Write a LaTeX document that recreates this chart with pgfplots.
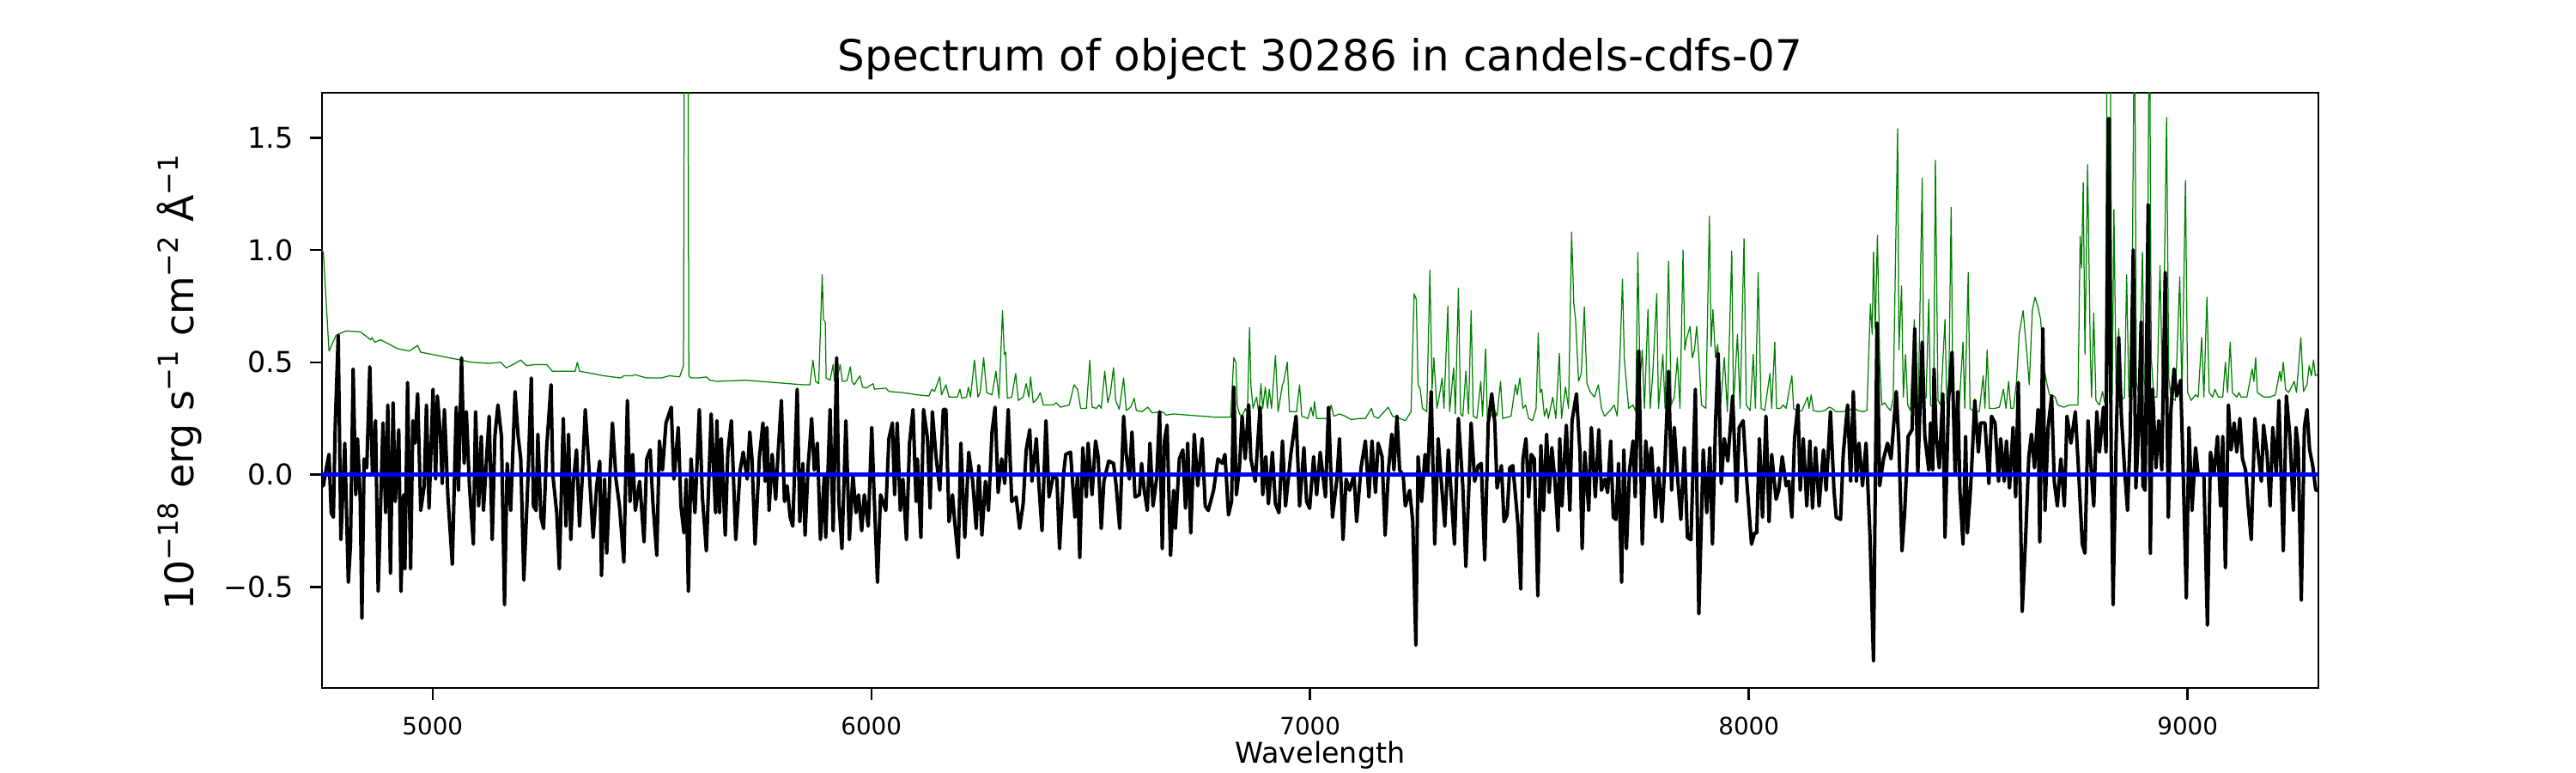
\documentclass[border=0pt]{standalone}
\usepackage{fontspec}
\setmainfont{DejaVu Sans}
\usepackage{pgfplots}
\pgfplotsset{compat=1.18}
\definecolor{mplgreen}{rgb}{0,0.5,0}
\definecolor{mplblue}{rgb}{0,0,1}
\begin{document}
\begin{tikzpicture}
\path[use as bounding box] (-135pt,-35.64pt) rectangle (945pt,288.36pt);
\begin{axis}[
  at={(0pt,0pt)}, anchor=south west,
  scale only axis, width=837pt, height=249.48pt,
  xmin=4748, xmax=9298, ymin=-0.95, ymax=1.70,
  axis line style={line width=0.9pt, black},
  tick align=outside, major tick length=5pt,
  tick style={line width=0.9pt, black},
  xtick pos=left, ytick pos=left,
  xtick={5000,6000,7000,8000,9000},
  xticklabels={5000,6000,7000,8000,9000},
  ytick={-0.5,0,0.5,1,1.5},
  yticklabels={−0.5,0.0,0.5,1.0,1.5},
  xticklabel style={font=\fontsize{10}{12}\selectfont, inner sep=0pt, anchor=north, yshift=-6.9pt},
  yticklabel style={font=\fontsize{12}{14}\selectfont, inner sep=0pt, anchor=east, xshift=-6.9pt},
  title={Spectrum of object 30286 in candels-cdfs-07},
  title style={at={(axis description cs:0.5,1)}, anchor=base, yshift=3pt, inner sep=0pt, font=\fontsize{18}{21}\selectfont},
  xlabel={Wavelength},
  xlabel style={at={(axis description cs:0.5,0)}, anchor=base, yshift=-31.5pt, inner sep=0pt, font=\fontsize{12}{14}\selectfont},
  ylabel={10\textsuperscript{−18} erg s\textsuperscript{−1} cm\textsuperscript{−2} Å\textsuperscript{−1}},
  ylabel style={at={(axis description cs:-0.0645,0.514)}, anchor=base, inner sep=0pt, font=\fontsize{16.5}{19}\selectfont},
  clip=true,
]
% green (error / sky) spectrum
\addplot[mplgreen, line width=0.45pt, line join=round] table {
4748 1.00
4751 0.99
4764 0.55
4780 0.62
4803 0.64
4836 0.635
4859 0.60
4862 0.61
4868 0.59
4882 0.60
4921 0.56
4947 0.55
4966 0.575
4973 0.545
4999 0.535
5038 0.52
5064 0.51
5090 0.50
5129 0.495
5155 0.50
5168 0.475
5188 0.495
5201 0.51
5214 0.485
5234 0.49
5260 0.49
5273 0.46
5299 0.46
5325 0.46
5330 0.50
5335 0.46
5364 0.45
5390 0.44
5429 0.43
5436 0.44
5456 0.44
5461 0.445
5488 0.43
5521 0.43
5540 0.44
5563 0.435
5572 0.485
5575 3.0
5581 3.0
5584 0.44
5589 0.43
5606 0.43
5624 0.435
5632 0.42
5648 0.415
5714 0.42
5779 0.41
5844 0.40
5860 0.40
5867 0.51
5873 0.415
5880 0.405
5888 0.89
5891 0.69
5895 0.68
5897 0.43
5906 0.42
5913 0.49
5916 0.415
5921 0.42
5929 0.49
5934 0.415
5939 0.415
5945 0.42
5952 0.48
5956 0.415
5961 0.40
5974 0.44
5980 0.39
5988 0.385
6004 0.405
6007 0.38
6033 0.385
6040 0.37
6072 0.365
6105 0.355
6131 0.35
6138 0.38
6144 0.37
6156 0.435
6160 0.355
6170 0.40
6177 0.345
6196 0.345
6202 0.38
6206 0.34
6217 0.345
6221 0.39
6226 0.345
6235 0.51
6243 0.345
6248 0.365
6256 0.52
6263 0.365
6275 0.355
6284 0.46
6291 0.34
6299 0.73
6303 0.535
6306 0.545
6310 0.34
6320 0.345
6329 0.45
6335 0.33
6346 0.345
6353 0.405
6359 0.345
6363 0.435
6369 0.32
6379 0.34
6385 0.365
6392 0.31
6415 0.31
6421 0.32
6431 0.30
6451 0.31
6462 0.40
6470 0.38
6477 0.295
6490 0.295
6498 0.51
6503 0.30
6513 0.295
6519 0.31
6524 0.295
6532 0.46
6539 0.32
6545 0.365
6552 0.476
6557 0.33
6565 0.29
6575 0.43
6581 0.285
6591 0.30
6599 0.34
6604 0.285
6617 0.28
6630 0.30
6640 0.275
6663 0.28
6672 0.265
6689 0.27
6721 0.265
6754 0.26
6787 0.255
6819 0.255
6826 0.52
6831 0.50
6834 0.31
6839 0.27
6845 0.26
6853 0.295
6857 0.27
6862 0.655
6865 0.40
6870 0.295
6878 0.345
6883 0.27
6888 0.405
6892 0.295
6898 0.39
6903 0.295
6907 0.38
6912 0.295
6921 0.53
6927 0.28
6937 0.40
6940 0.415
6948 0.50
6953 0.28
6969 0.28
6976 0.40
6981 0.26
6995 0.25
7002 0.30
7007 0.26
7010 0.325
7015 0.25
7041 0.25
7048 0.31
7054 0.26
7067 0.27
7080 0.26
7093 0.245
7113 0.25
7126 0.25
7140 0.295
7145 0.26
7155 0.25
7178 0.30
7188 0.26
7204 0.25
7217 0.24
7230 0.28
7237 0.805
7242 0.78
7246 0.40
7251 0.38
7256 0.295
7266 0.28
7273 0.91
7278 0.38
7282 0.52
7289 0.295
7294 0.345
7301 0.43
7305 0.295
7314 0.75
7318 0.28
7327 0.475
7331 0.27
7338 0.83
7343 0.27
7348 0.26
7355 0.46
7361 0.27
7367 0.73
7372 0.26
7380 0.25
7389 0.415
7393 0.26
7400 0.56
7404 0.25
7413 0.26
7419 0.295
7426 0.26
7434 0.415
7439 0.25
7458 0.26
7468 0.40
7472 0.355
7478 0.43
7485 0.295
7491 0.31
7498 0.25
7507 0.24
7515 0.295
7520 0.63
7524 0.365
7528 0.38
7534 0.26
7539 0.295
7543 0.25
7553 0.345
7560 0.25
7568 0.54
7573 0.25
7582 0.39
7589 0.295
7596 1.08
7601 0.76
7605 0.69
7612 0.415
7618 0.45
7625 0.745
7631 0.405
7638 0.37
7648 0.345
7657 0.40
7664 0.295
7671 0.26
7684 0.285
7693 0.31
7700 0.26
7706 0.52
7712 0.87
7716 0.52
7719 0.45
7726 0.295
7736 0.31
7742 0.28
7747 0.99
7752 0.415
7757 0.555
7762 0.295
7770 0.735
7775 0.295
7781 0.45
7790 0.805
7794 0.295
7804 0.535
7809 0.295
7817 0.95
7823 0.31
7830 0.345
7837 0.52
7843 0.295
7850 1.00
7854 0.555
7858 0.605
7866 0.66
7871 0.52
7876 0.555
7881 0.66
7886 0.52
7892 0.31
7902 0.295
7910 1.15
7914 0.57
7918 0.735
7924 0.52
7929 0.58
7935 0.295
7944 0.52
7951 0.28
7961 0.995
7965 0.31
7974 0.625
7980 0.295
7989 1.05
7994 0.31
8003 0.285
8010 0.535
8015 0.295
8021 0.90
8028 0.295
8036 0.285
8048 0.45
8052 0.295
8059 0.59
8063 0.295
8072 0.295
8078 0.31
8085 0.295
8091 0.365
8098 0.44
8102 0.295
8111 0.28
8121 0.285
8134 0.345
8137 0.295
8142 0.355
8147 0.285
8160 0.28
8173 0.285
8183 0.30
8189 0.295
8199 0.28
8212 0.28
8228 0.285
8238 0.30
8248 0.285
8261 0.28
8269 0.285
8277 0.76
8281 0.625
8284 0.99
8288 0.65
8293 1.065
8298 0.52
8303 0.31
8310 0.32
8316 0.30
8323 0.285
8329 0.34
8339 1.54
8342 0.555
8348 0.84
8352 0.345
8357 0.535
8362 0.31
8368 0.285
8377 0.69
8382 0.345
8386 0.295
8395 1.32
8399 0.33
8404 0.345
8410 0.78
8414 0.31
8421 0.295
8425 1.40
8431 0.33
8437 0.31
8442 0.50
8447 0.69
8451 0.32
8455 0.295
8461 1.19
8465 0.33
8470 0.295
8479 0.295
8488 0.59
8492 0.295
8500 0.90
8504 0.295
8512 0.28
8525 0.28
8534 0.44
8538 0.295
8543 0.555
8548 0.295
8561 0.295
8571 0.30
8580 0.38
8586 0.295
8592 0.415
8597 0.295
8603 0.295
8610 0.415
8616 0.625
8625 0.73
8633 0.555
8639 0.40
8646 0.73
8652 0.79
8659 0.745
8665 0.69
8672 0.485
8678 0.415
8685 0.355
8691 0.355
8698 0.345
8704 0.31
8718 0.30
8731 0.31
8744 0.31
8750 0.31
8755 1.06
8758 0.92
8762 1.30
8766 0.535
8772 1.38
8778 0.555
8781 0.345
8786 0.72
8791 0.33
8799 0.31
8806 0.37
8812 0.31
8817 2.2
8823 2.2
8828 0.345
8832 1.18
8837 0.38
8843 0.65
8848 0.33
8856 0.345
8861 0.89
8866 0.345
8872 0.415
8879 2.2
8883 0.415
8889 0.345
8897 0.99
8901 0.415
8907 0.38
8913 2.2
8917 0.52
8923 0.345
8930 0.345
8937 0.93
8943 0.345
8952 1.59
8957 0.43
8962 0.345
8972 0.33
8982 0.88
8987 0.345
8995 1.31
9000 0.365
9008 0.33
9018 0.355
9024 0.345
9032 0.61
9037 0.345
9044 0.79
9049 0.365
9057 0.345
9062 0.38
9070 0.345
9080 0.345
9086 0.50
9091 0.365
9097 0.59
9102 0.365
9112 0.345
9117 0.365
9122 0.345
9135 0.345
9147 0.47
9151 0.415
9155 0.52
9159 0.365
9174 0.345
9187 0.345
9200 0.355
9210 0.46
9213 0.415
9218 0.50
9223 0.38
9230 0.365
9243 0.415
9248 0.365
9258 0.61
9264 0.37
9272 0.40
9277 0.485
9282 0.44
9287 0.51
9291 0.44
9298 0.45
};
% black flux
\addplot[black, line width=1.45pt, line join=round] table {
4748 -0.05
4751 -0.05
4758 0.03
4764 0.09
4769 -0.17
4774 -0.19
4778 0.21
4785 0.62
4791 -0.29
4800 0.14
4808 -0.48
4813 -0.31
4819 0.47
4825 -0.09
4829 0.16
4835 -0.10
4839 -0.64
4844 0.07
4850 0.03
4857 0.48
4863 0.00
4870 0.24
4876 -0.52
4887 0.23
4893 -0.17
4898 0.31
4904 -0.44
4910 0.32
4915 -0.12
4923 0.20
4928 -0.52
4934 -0.09
4937 -0.42
4943 0.41
4950 -0.42
4955 0.24
4960 0.14
4966 0.36
4973 -0.16
4981 -0.05
4986 0.31
4992 -0.15
5001 0.38
5007 -0.02
5011 0.35
5018 0.17
5022 -0.04
5027 0.29
5035 -0.10
5045 -0.40
5054 0.30
5059 -0.07
5066 0.52
5072 0.05
5077 0.28
5084 -0.05
5093 -0.31
5098 0.28
5105 -0.14
5111 0.17
5116 -0.16
5123 0.07
5129 0.26
5136 -0.29
5142 0.17
5149 0.31
5157 0.17
5164 -0.58
5170 0.05
5178 -0.16
5188 0.37
5195 0.17
5201 0.07
5208 -0.47
5217 -0.04
5225 0.43
5230 -0.14
5236 -0.16
5240 0.18
5247 -0.19
5253 -0.24
5260 0.12
5270 0.40
5274 0.00
5283 -0.17
5289 -0.42
5298 0.25
5304 -0.23
5310 0.18
5315 -0.29
5321 -0.03
5328 0.11
5335 -0.23
5341 -0.02
5348 0.29
5358 -0.02
5366 -0.28
5374 -0.05
5381 0.06
5385 -0.45
5392 -0.02
5397 -0.35
5405 0.03
5410 0.23
5418 -0.02
5426 -0.14
5436 -0.39
5444 0.33
5450 -0.12
5456 0.09
5462 -0.16
5472 -0.03
5482 -0.30
5488 0.07
5496 0.11
5502 -0.12
5511 -0.36
5517 0.15
5524 0.02
5532 0.23
5544 0.30
5550 -0.02
5560 0.21
5566 -0.14
5573 -0.26
5578 -0.02
5583 -0.52
5589 0.07
5598 -0.17
5608 0.29
5615 -0.10
5624 -0.34
5635 0.27
5645 -0.17
5648 0.24
5654 -0.17
5658 0.16
5667 -0.27
5673 0.10
5681 0.24
5691 -0.29
5701 0.02
5708 0.10
5717 -0.02
5723 0.19
5728 0.07
5735 -0.31
5745 0.08
5753 0.23
5758 -0.03
5762 0.21
5767 -0.16
5774 0.09
5782 -0.11
5787 0.08
5795 0.33
5802 -0.12
5808 -0.05
5815 -0.19
5821 -0.23
5831 0.38
5837 -0.21
5844 0.05
5849 -0.27
5856 0.04
5864 0.25
5870 0.02
5877 0.14
5884 -0.29
5893 0.00
5896 -0.28
5906 0.29
5913 -0.25
5921 0.52
5926 -0.12
5933 -0.33
5942 0.24
5950 -0.29
5958 0.00
5965 -0.17
5971 -0.09
5978 -0.25
5984 -0.09
5993 -0.23
6001 0.21
6006 -0.07
6014 -0.48
6021 -0.09
6033 -0.16
6040 0.16
6048 0.23
6053 -0.09
6059 0.23
6066 -0.16
6072 -0.02
6080 -0.29
6087 0.14
6095 0.29
6102 -0.12
6105 0.07
6113 -0.28
6119 0.29
6128 0.16
6134 -0.15
6139 0.28
6147 0.09
6156 -0.07
6164 0.29
6170 0.29
6177 -0.21
6185 -0.09
6190 -0.21
6198 -0.37
6204 0.14
6213 -0.28
6222 0.10
6231 -0.03
6239 -0.24
6245 0.04
6252 -0.27
6260 -0.03
6267 -0.16
6275 0.19
6282 0.30
6289 -0.08
6297 0.07
6304 -0.04
6312 0.29
6320 -0.12
6330 -0.10
6338 -0.24
6346 -0.13
6353 0.11
6361 0.20
6366 -0.03
6376 0.16
6382 -0.05
6389 -0.25
6398 0.24
6405 -0.10
6415 0.00
6423 -0.02
6429 -0.33
6438 0.00
6443 0.09
6454 0.10
6464 -0.19
6470 0.00
6475 -0.37
6482 0.12
6490 -0.10
6494 0.14
6503 -0.09
6511 0.15
6517 0.08
6524 -0.24
6530 -0.03
6541 0.06
6552 0.05
6558 -0.05
6566 -0.24
6575 0.26
6581 0.09
6588 -0.02
6594 0.19
6601 -0.10
6611 -0.09
6616 0.05
6622 -0.07
6629 -0.16
6635 0.14
6642 -0.14
6650 -0.02
6657 0.28
6663 -0.33
6668 0.15
6674 0.22
6682 -0.36
6689 -0.07
6693 -0.24
6702 0.07
6710 0.11
6716 -0.15
6721 0.14
6728 -0.26
6736 0.18
6744 -0.05
6754 0.16
6761 -0.14
6768 -0.16
6780 -0.07
6790 0.07
6800 0.05
6806 0.09
6814 -0.18
6821 -0.12
6826 0.39
6832 -0.09
6839 0.03
6845 0.26
6852 0.07
6860 0.31
6865 0.07
6875 -0.03
6886 0.30
6892 -0.09
6899 0.08
6905 -0.13
6914 0.10
6921 -0.13
6929 -0.17
6937 0.15
6944 -0.14
6956 0.09
6968 0.26
6976 -0.14
6986 0.12
6992 -0.12
6999 -0.15
7008 0.08
7015 -0.09
7023 0.10
7029 0.00
7035 -0.10
7042 0.30
7051 -0.19
7061 -0.02
7067 0.16
7075 -0.29
7082 -0.02
7090 -0.07
7100 0.00
7106 -0.21
7116 0.03
7126 0.15
7134 -0.10
7141 0.15
7149 -0.08
7155 0.14
7164 0.08
7171 -0.27
7179 0.03
7186 0.18
7191 0.02
7198 0.26
7204 0.02
7212 0.00
7217 -0.14
7227 -0.07
7234 -0.21
7241 -0.76
7246 0.08
7254 -0.12
7262 0.09
7268 0.00
7276 0.37
7284 -0.31
7292 0.16
7299 -0.03
7307 -0.23
7315 0.11
7322 -0.10
7329 -0.31
7338 0.25
7348 -0.05
7355 -0.41
7362 -0.05
7367 0.23
7375 -0.03
7383 0.04
7390 0.05
7398 -0.38
7406 0.23
7414 0.36
7421 0.23
7426 -0.06
7436 0.04
7442 -0.21
7449 -0.18
7455 0.03
7462 0.04
7468 -0.09
7474 -0.23
7480 -0.51
7485 0.07
7492 0.16
7498 -0.10
7504 0.09
7511 0.07
7519 -0.54
7526 0.13
7532 -0.16
7539 0.18
7545 -0.08
7551 0.12
7558 -0.03
7565 -0.25
7569 0.16
7574 -0.14
7579 0.05
7584 0.22
7592 -0.16
7597 0.24
7607 0.36
7615 0.10
7620 -0.33
7626 0.10
7635 -0.16
7641 0.21
7650 -0.10
7658 0.20
7664 -0.07
7672 -0.02
7678 -0.08
7685 0.15
7691 -0.19
7697 -0.20
7703 0.05
7710 -0.48
7715 0.11
7721 -0.33
7728 0.02
7736 0.15
7741 -0.10
7749 0.55
7757 -0.31
7765 0.15
7772 0.00
7778 0.12
7787 -0.19
7794 0.03
7802 -0.21
7809 0.07
7817 0.46
7824 -0.07
7830 0.21
7837 0.00
7845 -0.20
7853 0.12
7860 -0.28
7868 -0.29
7878 0.38
7886 -0.62
7896 0.11
7904 -0.17
7911 0.12
7917 -0.31
7924 0.23
7930 0.54
7937 -0.04
7944 0.16
7952 0.06
7963 0.35
7972 -0.12
7978 0.21
7987 0.24
7995 -0.02
8006 -0.31
8013 -0.26
8018 -0.26
8024 0.16
8031 -0.19
8039 0.26
8046 -0.21
8052 0.09
8062 -0.11
8068 -0.07
8076 0.08
8085 -0.05
8091 -0.03
8098 -0.19
8104 0.16
8112 0.31
8117 -0.07
8124 0.16
8132 -0.14
8139 0.15
8145 -0.15
8152 0.12
8160 -0.14
8170 0.11
8176 -0.07
8186 0.28
8194 -0.07
8199 -0.19
8209 -0.20
8215 0.09
8225 0.31
8232 -0.03
8238 0.37
8245 -0.03
8251 0.14
8259 -0.05
8267 0.14
8276 -0.27
8284 -0.83
8292 0.675
8298 -0.05
8307 0.07
8316 0.14
8324 0.07
8336 0.37
8342 0.13
8349 -0.34
8355 -0.17
8363 0.17
8372 0.20
8378 0.65
8385 0.00
8395 0.59
8401 0.17
8410 0.02
8414 0.23
8419 0.02
8422 0.47
8427 0.17
8434 0.03
8442 0.36
8447 -0.28
8455 0.33
8463 0.545
8470 0.00
8476 0.37
8481 -0.07
8488 -0.31
8494 0.17
8498 -0.26
8504 -0.10
8507 0.00
8515 0.33
8523 0.10
8528 0.23
8538 0.23
8547 -0.04
8553 0.26
8561 0.23
8569 -0.03
8574 0.16
8582 -0.03
8587 0.15
8594 -0.06
8602 0.21
8608 -0.10
8614 0.41
8623 -0.61
8631 -0.27
8638 0.08
8644 0.18
8651 0.03
8659 0.29
8663 -0.30
8670 0.65
8675 -0.16
8682 0.21
8690 0.35
8696 -0.03
8703 -0.14
8711 0.07
8719 -0.14
8725 0.26
8734 0.14
8744 0.28
8751 0.03
8760 -0.31
8766 -0.35
8773 0.24
8780 0.03
8786 -0.14
8793 0.28
8799 0.10
8808 0.30
8814 0.10
8820 1.585
8826 0.04
8830 -0.58
8837 0.14
8843 0.61
8849 0.26
8856 0.03
8863 -0.16
8869 0.17
8876 1.00
8882 -0.06
8888 0.19
8894 0.68
8898 -0.05
8903 -0.07
8910 1.20
8915 -0.35
8920 0.38
8928 0.03
8934 0.24
8941 0.02
8949 0.90
8956 -0.19
8962 0.29
8969 0.47
8975 0.35
8984 0.42
8990 0.00
8997 -0.55
9003 0.21
9010 -0.16
9018 0.12
9024 0.00
9037 0.00
9045 -0.67
9052 0.10
9060 0.00
9068 0.17
9075 -0.14
9080 0.17
9086 -0.415
9093 0.31
9099 0.11
9106 0.23
9112 0.10
9119 0.25
9125 0.07
9132 0.02
9138 -0.14
9145 -0.29
9153 0.25
9161 0.09
9168 -0.03
9173 0.22
9181 0.09
9188 -0.14
9194 0.21
9202 0.00
9208 0.33
9213 0.00
9218 -0.34
9225 0.35
9233 0.17
9241 -0.16
9247 0.21
9252 0.12
9259 -0.56
9266 0.21
9272 0.29
9278 0.11
9285 0.04
9292 -0.07
9298 -0.07
};
% blue model (drawn on top)
\addplot[mplblue, line width=2pt] table {
4748 0
5500 0
6500 0
7500 0
8500 0
9298 0
};
\end{axis}
\end{tikzpicture}
\end{document}
